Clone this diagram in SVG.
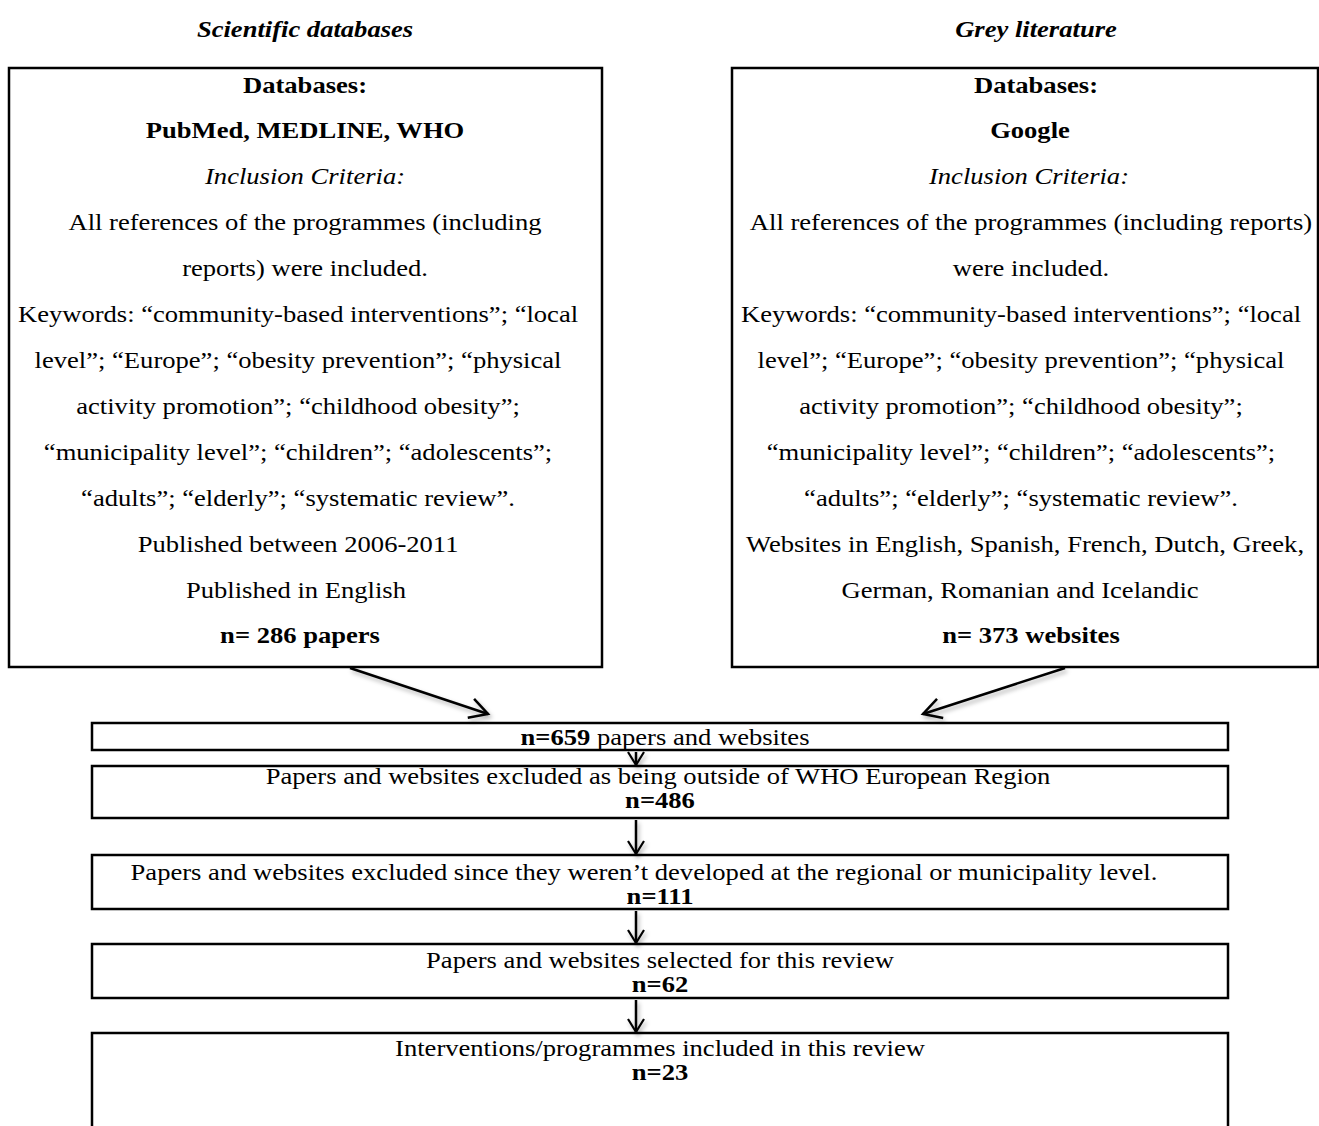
<svg xmlns="http://www.w3.org/2000/svg" width="1319" height="1126" viewBox="0 0 1319 1126">
<style>
.t{font-family:"Liberation Serif","Times New Roman",serif;font-size:24px;text-anchor:middle;fill:#000}
.b{font-weight:bold}
.i{font-style:italic}
.box{fill:#fff;stroke:#000;stroke-width:2.5}
.c{fill:none;stroke:#000;stroke-width:2.5}
</style>
<defs>
<marker id="ah" markerUnits="userSpaceOnUse" markerWidth="26" markerHeight="26" refX="20" refY="12" orient="auto">
<path d="M2,2 L20,12 L2,22" fill="none" stroke="#000" stroke-width="2.5"/>
</marker>
<marker id="av" markerUnits="userSpaceOnUse" markerWidth="20" markerHeight="20" refX="14" refY="9" orient="auto">
<path d="M1,1 L14,9 L1,17" fill="none" stroke="#000" stroke-width="2.2"/>
</marker>
<filter id="sh" x="-20%" y="-20%" width="140%" height="140%">
<feDropShadow dx="2" dy="3" stdDeviation="2" flood-color="#000" flood-opacity="0.3"/>
</filter>
</defs>
<rect width="1319" height="1126" fill="#fff"/>

<g id="headers" transform="scale(1.108 1)">
<text class="t b i" x="275.3" y="37">Scientific databases</text>
<text class="t b i" x="935" y="37">Grey literature</text>
</g>

<g id="node-scientific">
<rect class="box" x="9" y="68" width="593" height="599"/>
<g transform="scale(1.108 1)">
<text class="t b" x="275.3" y="93">Databases:</text>
<text class="t b" x="275.3" y="138">PubMed, MEDLINE, WHO</text>
<text class="t i" x="275.3" y="184">Inclusion Criteria:</text>
<text class="t" x="275.3" y="230">All references of the programmes (including</text>
<text class="t" x="275.3" y="276">reports) were included.</text>
<text class="t" x="269" y="322">Keywords: “community-based interventions”; “local</text>
<text class="t" x="269" y="368">level”; “Europe”; “obesity prevention”; “physical</text>
<text class="t" x="269" y="414">activity promotion”; “childhood obesity”;</text>
<text class="t" x="269" y="460">“municipality level”; “children”; “adolescents”;</text>
<text class="t" x="269" y="506">“adults”; “elderly”; “systematic review”.</text>
<text class="t" x="269" y="552">Published between 2006-2011</text>
<text class="t" x="267.1" y="598">Published in English</text>
<text class="t b" x="270.8" y="643">n= 286 papers</text>
</g>
</g>

<g id="node-grey">
<rect class="box" x="732" y="68" width="586" height="599"/>
<g transform="scale(1.108 1)">
<text class="t b" x="935" y="93">Databases:</text>
<text class="t b" x="929.6" y="138">Google</text>
<text class="t i" x="928.7" y="184">Inclusion Criteria:</text>
<text class="t" x="930.5" y="230">All references of the programmes (including reports)</text>
<text class="t" x="930.5" y="276">were included.</text>
<text class="t" x="921.5" y="322">Keywords: “community-based interventions”; “local</text>
<text class="t" x="921.5" y="368">level”; “Europe”; “obesity prevention”; “physical</text>
<text class="t" x="921.5" y="414">activity promotion”; “childhood obesity”;</text>
<text class="t" x="921.5" y="460">“municipality level”; “children”; “adolescents”;</text>
<text class="t" x="921.5" y="506">“adults”; “elderly”; “systematic review”.</text>
<text class="t" x="925.1" y="552">Websites in English, Spanish, French, Dutch, Greek,</text>
<text class="t" x="920.6" y="598">German, Romanian and Icelandic</text>
<text class="t b" x="930.5" y="643">n= 373 websites</text>
</g>
</g>

<g id="node-659">
<rect class="box" x="92" y="723" width="1136" height="27"/>
<text class="t" x="600.2" y="745" transform="scale(1.108 1)"><tspan class="b">n=659</tspan> papers and websites</text>
</g>
<g id="node-486">
<rect class="box" x="92" y="766" width="1136" height="52"/>
<g transform="scale(1.108 1)">
<text class="t" x="593.9" y="784">Papers and websites excluded as being outside of WHO European Region</text>
<text class="t b" x="595.7" y="808">n=486</text>
</g>
</g>
<g id="node-111">
<rect class="box" x="92" y="855" width="1136" height="54"/>
<g transform="scale(1.108 1)">
<text class="t" x="581.2" y="880">Papers and websites excluded since they weren’t developed at the regional or municipality level.</text>
<text class="t b" x="595.7" y="904">n=111</text>
</g>
</g>
<g id="node-62">
<rect class="box" x="92" y="944" width="1136" height="54"/>
<g transform="scale(1.108 1)">
<text class="t" x="595.7" y="968">Papers and websites selected for this review</text>
<text class="t b" x="595.7" y="992">n=62</text>
</g>
</g>
<g id="node-23">
<rect class="box" x="92" y="1033" width="1136" height="100"/>
<g transform="scale(1.108 1)">
<text class="t" x="595.7" y="1056">Interventions/programmes included in this review</text>
<text class="t b" x="595.7" y="1080">n=23</text>
</g>
</g>

<g id="connectors" filter="url(#sh)">
<line class="c" x1="350" y1="668" x2="488" y2="714" marker-end="url(#ah)"/>
<line class="c" x1="1065" y1="668" x2="923" y2="714" marker-end="url(#ah)"/>
<line class="c" x1="636" y1="752" x2="636" y2="765" marker-end="url(#av)"/>
<line class="c" x1="636" y1="820" x2="636" y2="854" marker-end="url(#av)"/>
<line class="c" x1="636" y1="911" x2="636" y2="943" marker-end="url(#av)"/>
<line class="c" x1="636" y1="1000" x2="636" y2="1032" marker-end="url(#av)"/>
</g>
</svg>
